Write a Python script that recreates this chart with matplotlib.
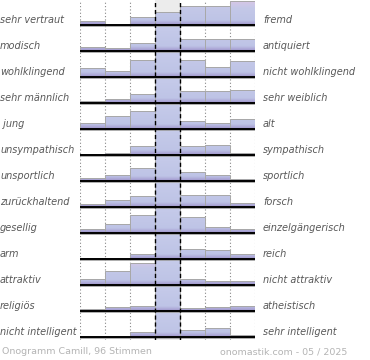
import numpy as np
import matplotlib
matplotlib.use("Agg")
import matplotlib.pyplot as plt
import matplotlib.patheffects as pe
from matplotlib.colors import LinearSegmentedColormap
from matplotlib.patches import Rectangle
from matplotlib.transforms import blended_transform_factory

# --- DATA (bar heights, row height = 26) ---
left_labels = ["sehr vertraut", "modisch", "wohlklingend", "sehr männlich", " jung",
               "unsympathisch", "unsportlich", "zurückhaltend", "gesellig", "arm",
               "attraktiv", "religiös", "nicht intelligent"]
right_labels = ["fremd", "antiquiert", "nicht wohlklingend", "sehr weiblich", "alt",
                "sympathisch", "sportlich", "forsch", "einzelgängerisch", "reich",
                "nicht attraktiv", "atheistisch", "sehr intelligent"]
scores = [
    [3.5, 0.0, 7.7, 12.7, 19.0, 19.0, 24.0],
    [4.3, 3.3, 7.7, 40, 12.3, 12.3, 12.3],
    [8.6, 6.0, 17.0, 40, 16.7, 9.6, 15.6],
    [2.4, 3.7, 9.4, 40, 12.4, 12.4, 13.4],
    [5.6, 13.3, 18.3, 40, 8.0, 5.6, 9.6],
    [1.0, 2.3, 9.3, 40, 9.3, 10.3, 2.3],
    [3.0, 6.4, 13.4, 40, 8.7, 6.4, 1.7],
    [2.6, 7.0, 11.0, 40, 11.6, 11.6, 4.0],
    [3.6, 8.6, 18.0, 40, 16.0, 6.0, 3.6],
    [1.3, 0.0, 5.0, 40, 10.0, 8.6, 5.0],
    [6.0, 13.6, 22.0, 40, 5.6, 4.3, 3.6],
    [2.0, 4.0, 5.4, 40, 3.0, 4.4, 5.4],
    [0.0, 0.0, 5.0, 40, 7.0, 9.0, 1.6],
]
footer_left = "Onogramm Camill, 96 Stimmen"
footer_right = "onomastik.com - 05 / 2025"

ROW = 26.0
n_rows = len(scores)
n_bins = len(scores[0])
mid = n_bins // 2

W, H = 370, 360
fig = plt.figure(figsize=(W / 100, H / 100), dpi=100)
# axes: x 80..255 px, y from top 0 to 340 px; one unit = one row
ax = fig.add_axes([80 / W, (H - 340) / H, 175 / W, 340 / H])
ax.set_xlim(0, n_bins)
ax.set_ylim(-3 / ROW, 337 / ROW)
ax.axis("off")

bar_cmap = LinearSegmentedColormap.from_list("bars", [
    (0.0, "#9c92c8"), (0.08, "#aeaad8"), (0.18, "#bec4e6"),
    (0.65, "#c4c8e8"), (1.0, "#dcc6e6")])
mid_cmap = LinearSegmentedColormap.from_list("mid", [
    (0.0, "#9c92c8"), (0.08, "#aeaad8"), (0.18, "#bec4e6"), (1.0, "#c6cbea")])
grad = np.linspace(0, 1, 64).reshape(-1, 1)

# neutral column background
ax.axvspan(mid, mid + 1, color="#ececec", zorder=0, lw=0)

# grid lines
for x in range(n_bins + 1):
    if x in (mid, mid + 1):
        continue
    ax.axvline(x, color="#888888", lw=0.8, ls=(0, (1, 2)), zorder=1)

for k, row in enumerate(scores):
    base = n_rows - 1 - k
    for i, v in enumerate(row):
        h = min(v, ROW) / ROW
        if h <= 0:
            continue
        rect = Rectangle((i, base), 1, h, facecolor="none",
                         edgecolor="#a8a8a8", lw=0.7, zorder=3)
        ax.add_patch(rect)
        im = ax.imshow(grad, cmap=mid_cmap if i == mid else bar_cmap,
                       origin="lower", extent=(i, i + 1, base, base + 1),
                       aspect="auto", zorder=2, interpolation="bilinear")
        im.set_clip_path(rect)
    ax.plot([0, n_bins], [base, base], color="black", lw=1.4, zorder=5,
            solid_capstyle="butt",
            path_effects=[pe.SimpleLineShadow(offset=(0, -0.9), shadow_color="#999999", alpha=0.8),
                          pe.Normal()])

for x in (mid, mid + 1):
    ax.axvline(x, color="black", lw=1.0, ls=(0, (3, 2)), zorder=6)

tr = blended_transform_factory(fig.transFigure, ax.transData)
for k in range(n_rows):
    y = n_rows - 1 - k + 5 / ROW
    ax.text(0 / W, y, left_labels[k], transform=tr, ha="left", va="center",
            fontsize=7.05, style="italic", color="#585858")
    ax.text(263 / W, y, right_labels[k], transform=tr, ha="left", va="center",
            fontsize=7.05, style="italic", color="#585858")

fig.text(2 / W, 1 - 352 / H, footer_left, ha="left", va="center",
         fontsize=6.8, color="#b4b4b4")
fig.text(220 / W, 1 - 352 / H, footer_right, ha="left", va="center",
         fontsize=6.8, color="#b4b4b4")

fig.savefig("out.png", dpi=100)
